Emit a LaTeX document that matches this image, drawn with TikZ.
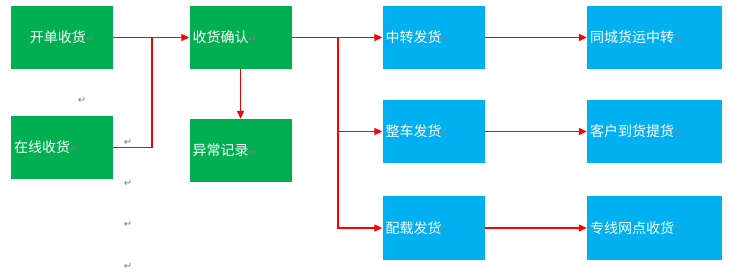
\documentclass[tikz,border=0pt]{standalone}
\usepackage{fontspec}
\newfontfamily\cjk{Noto Sans CJK SC}
\newfontfamily\dejavu{DejaVu Sans}
\usetikzlibrary{arrows.meta}
\definecolor{boxgreen}{HTML}{00B050}
\definecolor{boxblue}{HTML}{00B0F0}
\definecolor{linered}{HTML}{FF0000}
\definecolor{markgray}{HTML}{808080}
\newcommand{\pmark}{{\dejavu\fontsize{10}{10}\selectfont\color{markgray}↵}}
\tikzset{
  gbox/.style={rectangle, fill=boxgreen, text=white, inner xsep=3pt, inner ysep=0pt,
    minimum height=63pt, text width=96pt, align=left, font=\cjk\fontsize{14}{14}\selectfont},
  bbox/.style={gbox, fill=boxblue},
  wbox/.style={bbox, text width=129pt},
  conn/.style={draw=linered, line width=1.3pt},
  arr/.style={conn, -{Triangle[length=8pt,width=7pt]}},
  strayp/.style={inner sep=0pt}
}
\begin{document}
\begin{tikzpicture}[x=1pt,y=-1pt]
\useasboundingbox (0,0) rectangle (730,271);
% green boxes
\node[gbox, align=center] (kd) at (62,37.5) {开单收货\pmark};
\node[gbox] (zx) at (62,147.5) {在线收货\pmark};
\node[gbox] (sq) at (240.5,37.5) {收货确认\pmark};
\node[gbox] (yc) at (240.5,150.5) {异常记录\pmark};
% blue boxes
\node[bbox] (zz) at (433.5,37.5) {中转发货\pmark};
\node[bbox] (zc) at (433.5,131.5) {整车发货\pmark};
\node[bbox, minimum height=64pt] (pz) at (433.5,228) {配载发货\pmark};
\node[wbox] (tc) at (654.5,37.5) {同城货运中转\pmark};
\node[wbox] (kh) at (654.5,131.5) {客户到货提货\pmark};
\node[wbox, minimum height=64pt] (zw) at (654.5,228) {专线网点收货\pmark};
% junctions
\coordinate (j1) at (152,37.5);
\coordinate (j2) at (338,37.5);
% connectors
\draw[arr] (kd.east) -- (sq.west);
\draw[conn] (zx.east) -| (j1);
\draw[arr] (sq.south) -- (yc.north);
\draw[arr] (sq.east) -- (zz.west);
\draw[arr] (j2) |- (zc.west);
\draw[arr] (j2) |- (pz.west);
\draw[arr] (zz.east) -- (tc.west);
\draw[arr] (zc.east) -- (kh.west);
\draw[arr] (pz.east) -- (zw.west);
% stray paragraph marks
\node[strayp] (p1) at (82,100) {\pmark};
\node[strayp] (p2) at (128,142) {\pmark};
\node[strayp] (p3) at (128,183) {\pmark};
\node[strayp] (p4) at (128,224) {\pmark};
\node[strayp] (p5) at (128,266) {\pmark};
\end{tikzpicture}
\end{document}
